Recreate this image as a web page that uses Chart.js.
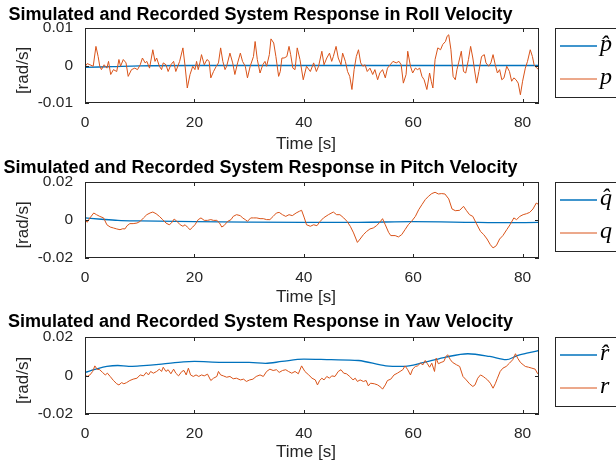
<!DOCTYPE html>
<html>
<head>
<meta charset="utf-8">
<script src="https://cdn.jsdelivr.net/npm/chart.js"></script>
<style>
  body { margin: 0; background: #fff; overflow: hidden; }
  .panel { position: absolute; left: 0; width: 616px; height: 156px; }
</style>
</head>
<body>
<div class="panel" style="top:0"><canvas id="rollChart" width="616" height="156"></canvas></div>
<div class="panel" style="top:154px"><canvas id="pitchChart" width="616" height="156"></canvas></div>
<div class="panel" style="top:309px"><canvas id="yawChart" width="616" height="156"></canvas></div>
<script>
const xTicks = [0, 20, 40, 60, 80];
const rollTicks = [-0.01, 0, 0.01];
const pitchTicks = [-0.02, 0, 0.02];
const yawTicks = [-0.02, 0, 0.02];

// roll velocity: recorded p and simulated p-hat
const rollTime = [
  0, 0.4, 0.9, 1.5, 2.0, 2.4, 2.7, 3.0, 3.5, 4.0,
  4.3, 4.7, 5.2, 5.8, 6.2, 6.5, 7.0, 7.5, 7.9, 8.5,
  9.1, 9.6, 10.1, 10.5, 11.0, 11.3, 11.8, 12.4, 12.8, 13.1,
  13.6, 14.0, 14.3, 14.8, 15.2, 15.7, 16.2, 16.6, 17.3, 17.9,
  18.3, 18.7, 19.2, 19.7, 20.1, 20.4, 20.7, 21.0, 21.3, 21.8,
  22.3, 22.7, 23.0, 23.5, 24.0, 24.4, 24.8, 25.2, 25.6, 25.9,
  26.5, 27.0, 27.4, 27.9, 28.4, 28.8, 29.3, 29.7, 30.2, 30.8,
  31.1, 31.5, 32.0, 32.5, 32.9, 33.2, 33.7, 34.0, 34.5, 34.9,
  35.4, 35.7, 36.0, 36.4, 36.9, 37.3, 37.6, 38.0, 38.4, 38.8,
  39.3, 39.9, 40.5, 41.2, 41.8, 42.3, 42.7, 43.3, 43.7, 44.2,
  44.7, 45.1, 45.4, 45.9, 46.3, 46.8, 47.1, 47.6, 48.0, 48.4,
  48.8, 49.2, 49.6, 50.0, 50.4, 50.8, 51.2, 51.6, 52.1, 52.6,
  53.0, 53.5, 53.9, 54.4, 54.9, 55.3, 55.8, 56.3, 56.9, 57.4,
  57.8, 58.2, 58.7, 59.0, 59.5, 59.9, 60.4, 60.8, 61.2, 61.6,
  62.0, 62.5, 63.0, 63.3, 63.6, 64.0, 64.5, 65.0, 65.4, 65.9,
  66.2, 66.5, 66.9, 67.3, 67.7, 68.0, 68.3, 68.8, 69.2, 69.6,
  70.1, 70.5, 70.9, 71.3, 71.6, 72.0, 72.5, 73.0, 73.3, 73.8,
  74.2, 74.6, 75.0, 75.4, 75.8, 76.2, 76.6, 77.1, 77.6, 78.0,
  78.4, 78.8, 79.2, 79.6, 80.0, 80.5, 80.9, 81.4, 81.8, 82.1,
  82.6, 83.0
];
const rollRecorded = [
  -0.0003, 0.0005, 0.0002, -0.0002, 0.0051, 0.0024, -0.0002, -0.0011, 0.0002, -0.0007,
  0.0011, -0.0024, -0.0011, -0.0016, 0.0016, -0.0002, 0.0016, 0.0007, -0.0029, -0.0011,
  -0.0007, -0.0011, 0.0002, 0.0020, 0.0007, 0.0011, -0.0007, 0.0042, 0.0011, 0.0020,
  -0.0002, -0.0011, 0.0007, 0.0002, -0.0016, 0.0002, 0.0011, -0.0016, 0.0011, 0.0047,
  -0.0002, -0.0060, -0.0024, -0.0002, -0.0011, 0.0011, -0.0011, 0.0007, 0.0029, 0.0002,
  0.0016, 0.0011, -0.0033, -0.0016, -0.0002, 0.0007, 0.0047, 0.0011, -0.0011, -0.0002,
  0.0033, 0.0007, -0.0024, 0.0007, 0.0033, 0.0011, -0.0002, -0.0033, -0.0002, 0.0024,
  0.0064, 0.0016, -0.0020, 0.0002, 0.0011, -0.0002, 0.0029, 0.0071, 0.0060, 0.0024,
  -0.0029, -0.0016, 0.0020, 0.0020, 0.0024, 0.0051, 0.0029, -0.0007, -0.0011, 0.0047,
  0.0016, -0.0038, -0.0002, -0.0016, 0.0007, -0.0016, -0.0002, 0.0038, 0.0002, 0.0020,
  0.0033, 0.0011, 0.0024, 0.0051, 0.0020, 0.0002, 0.0033, 0.0011, -0.0016, -0.0029,
  -0.0064, -0.0011, 0.0024, 0.0042, 0.0007, -0.0002, 0.0002, -0.0016, -0.0007, -0.0024,
  -0.0011, -0.0038, -0.0020, -0.0011, -0.0033, -0.0007, 0.0002, 0.0011, 0.0007, 0.0011,
  0.0002, -0.0047, -0.0024, 0.0038, -0.0002, -0.0020, -0.0007, -0.0011, -0.0007, -0.0029,
  -0.0038, -0.0064, -0.0020, -0.0042, -0.0060, 0.0016, 0.0047, 0.0042, 0.0056, 0.0064,
  0.0078, 0.0082, 0.0042, -0.0029, -0.0038, -0.0011, 0.0007, 0.0038, -0.0016, -0.0020,
  0.0016, 0.0051, 0.0020, -0.0020, -0.0047, -0.0016, 0.0024, 0.0029, 0.0007, -0.0002,
  0.0007, 0.0029, 0.0002, -0.0020, -0.0011, -0.0038, -0.0033, -0.0002, -0.0016, -0.0042,
  -0.0033, -0.0038, -0.0047, -0.0078, -0.0042, -0.0007, 0.0011, 0.0042, 0.0024, 0.0002,
  -0.0007, -0.0011
];
const rollSimTime = [0, 5, 10, 20, 40, 60, 83];
const rollSimulated = [-0.0005, -0.0003, -0.0001, 0, 0, 0, 0];

// pitch velocity: recorded q and simulated q-hat
const pitchTime = [
  0, 0.4, 0.9, 1.6, 2.1, 2.7, 3.4, 4.0, 4.6, 5.2,
  5.8, 6.4, 6.9, 7.3, 7.7, 8.2, 8.8, 9.5, 10.1, 10.7,
  11.3, 11.9, 12.4, 13.0, 13.6, 14.2, 14.8, 15.4, 15.8, 16.3,
  16.8, 17.4, 17.9, 18.3, 18.7, 19.2, 19.7, 20.1, 20.7, 21.2,
  21.8, 22.4, 23.0, 23.5, 24.1, 24.6, 25.0, 25.4, 26.1, 26.7,
  27.1, 27.7, 28.4, 28.8, 29.3, 29.7, 30.3, 30.8, 31.4, 32.0,
  32.6, 33.2, 33.8, 34.4, 35.0, 35.5, 36.1, 36.7, 37.3, 37.9,
  38.6, 39.2, 39.6, 40.1, 40.5, 41.2, 41.8, 42.4, 43.0, 43.6,
  44.5, 45.4, 46.0, 46.6, 47.3, 47.9, 48.5, 49.1, 49.8, 50.3,
  50.9, 51.5, 52.1, 52.7, 53.3, 53.9, 54.4, 54.9, 55.5, 55.9,
  56.7, 57.3, 57.9, 58.5, 59.1, 59.7, 60.4, 61.0, 61.6, 62.2,
  62.8, 63.4, 64.0, 64.6, 65.2, 65.8, 66.5, 67.1, 67.7, 68.5,
  69.2, 69.7, 70.3, 70.9, 71.5, 72.3, 72.9, 73.5, 74.1, 74.6,
  75.2, 75.8, 76.4, 77.1, 77.7, 78.4, 78.9, 79.5, 80.1, 80.7,
  81.3, 81.9, 82.5, 83.0
];
const pitchRecorded = [
  0.0002, -0.0012, 0.0011, 0.0037, 0.0028, 0.0019, 0.0011, -0.0025, -0.0037, -0.0042,
  -0.0047, -0.0051, -0.0046, -0.0047, -0.0030, -0.0019, -0.0019, -0.0016, -0.0007, 0.0011,
  0.0028, 0.0037, 0.0042, 0.0033, 0.0019, 0.0002, -0.0016, -0.0025, -0.0016, 0.0005,
  -0.0007, -0.0025, -0.0033, -0.0025, -0.0037, -0.0051, -0.0037, -0.0025, 0.0002, 0.0011,
  -0.0002, -0.0002, 0.0002, -0.0002, -0.0002, -0.0016, -0.0037, -0.0030, -0.0007, 0.0002,
  0.0019, 0.0028, 0.0023, 0.0011, 0.0002, -0.0007, 0.0011, 0.0011, 0.0011, 0.0007,
  0.0007, 0.0002, 0.0002, 0.0019, 0.0037, 0.0040, 0.0028, 0.0019, 0.0028, 0.0023,
  0.0037, 0.0046, 0.0051, 0.0011, -0.0025, -0.0033, -0.0025, -0.0030, -0.0007, 0.0011,
  0.0028, 0.0042, 0.0028, 0.0028, 0.0011, -0.0007, -0.0033, -0.0068, -0.0118, -0.0100,
  -0.0077, -0.0060, -0.0047, -0.0042, -0.0030, -0.0012, 0.0007, -0.0025, -0.0065, -0.0082,
  -0.0082, -0.0089, -0.0077, -0.0051, -0.0025, -0.0007, 0.0019, 0.0054, 0.0081, 0.0107,
  0.0125, 0.0139, 0.0146, 0.0137, 0.0139, 0.0137, 0.0111, 0.0058, 0.0049, 0.0051,
  0.0072, 0.0051, 0.0028, 0.0019, -0.0016, -0.0060, -0.0077, -0.0100, -0.0130, -0.0147,
  -0.0135, -0.0100, -0.0082, -0.0051, -0.0025, 0.0011, 0.0002, 0.0019, 0.0028, 0.0033,
  0.0040, 0.0058, 0.0089, 0.0081
];
const pitchSimTime = [0, 3, 6, 10, 20, 30, 40, 50, 60, 70, 75, 83];
const pitchSimulated = [0.0011, 0.0004, -0.0002, -0.0005, -0.0009, -0.0011, -0.0012, -0.0012, -0.0009, -0.0012, -0.0014, -0.0013];

// yaw velocity: recorded r and simulated r-hat
const yawTime = [
  0, 0.4, 0.9, 1.4, 1.8, 2.2, 2.7, 3.2, 3.7, 4.1,
  4.6, 5.2, 5.8, 6.2, 6.7, 7.1, 7.6, 8.2, 8.8, 9.5,
  10.1, 10.7, 11.2, 11.6, 12.0, 12.5, 13.1, 13.6, 14.0, 14.3,
  14.8, 15.2, 15.7, 16.2, 16.6, 17.1, 17.7, 18.1, 18.5, 18.9,
  19.3, 19.8, 20.3, 20.8, 21.3, 21.8, 22.4, 23.0, 23.5, 24.1,
  24.4, 24.8, 25.3, 25.9, 26.5, 27.1, 27.7, 28.4, 29.0, 29.5,
  30.1, 30.7, 31.3, 32.0, 32.6, 33.2, 33.8, 34.4, 35.0, 35.5,
  36.1, 36.7, 37.2, 37.8, 38.4, 39.0, 39.6, 40.2, 40.9, 41.5,
  42.1, 42.5, 42.9, 43.3, 43.7, 44.2, 44.7, 45.1, 45.7, 46.3,
  46.8, 47.3, 47.8, 48.4, 49.0, 49.4, 49.8, 50.3, 50.9, 51.4,
  51.8, 52.2, 52.9, 53.5, 54.1, 54.4, 54.9, 55.3, 55.9, 56.5,
  57.1, 57.6, 58.1, 58.5, 59.0, 59.5, 59.9, 60.4, 60.8, 61.3,
  61.8, 62.2, 62.6, 63.0, 63.4, 63.9, 64.2, 64.6, 65.1, 65.6,
  66.0, 66.3, 66.8, 67.2, 67.9, 68.5, 69.1, 69.7, 70.3, 70.9,
  71.3, 71.8, 72.3, 72.8, 73.2, 73.6, 74.1, 74.6, 75.0, 75.4,
  75.9, 76.4, 77.0, 77.6, 78.2, 78.7, 79.1, 79.6, 80.1, 80.5,
  81.1, 81.7, 82.3, 82.7, 83.0
];
const yawRecorded = [
  0.0003, -0.0005, 0.0003, 0.0021, 0.0050, 0.0033, 0.0030, 0.0016, 0.0003, 0.0012,
  -0.0005, -0.0026, -0.0043, -0.0049, -0.0037, -0.0043, -0.0037, -0.0026, -0.0019, -0.0014,
  0.0003, -0.0002, 0.0016, 0.0003, 0.0021, 0.0012, 0.0021, 0.0033, 0.0021, 0.0043,
  0.0021, 0.0030, 0.0009, 0.0033, 0.0012, -0.0002, 0.0021, 0.0026, 0.0003, 0.0038,
  0.0003, -0.0005, 0.0003, -0.0005, 0.0003, -0.0002, 0.0007, -0.0026, -0.0014, -0.0005,
  0.0021, 0.0003, -0.0002, -0.0009, -0.0005, -0.0017, -0.0014, -0.0023, -0.0019, -0.0031,
  -0.0023, -0.0019, -0.0005, 0.0003, -0.0005, 0.0021, 0.0033, 0.0026, 0.0030, 0.0016,
  0.0026, 0.0030, 0.0021, 0.0012, 0.0021, 0.0009, 0.0050, 0.0021, 0.0003, -0.0014,
  -0.0023, -0.0049, -0.0026, -0.0014, -0.0023, -0.0005, -0.0014, -0.0002, -0.0005, 0.0021,
  0.0030, 0.0012, 0.0009, -0.0005, -0.0023, -0.0014, -0.0031, -0.0023, -0.0031, -0.0026,
  -0.0054, -0.0040, -0.0043, -0.0049, -0.0061, -0.0071, -0.0049, -0.0026, -0.0019, 0.0003,
  0.0012, 0.0021, 0.0030, 0.0050, 0.0030, 0.0003, 0.0033, 0.0047, 0.0050, 0.0064,
  0.0056, 0.0078, 0.0061, 0.0043, 0.0064, 0.0021, 0.0090, 0.0061, 0.0068, 0.0073,
  0.0099, 0.0108, 0.0082, 0.0068, 0.0056, 0.0047, -0.0005, -0.0023, -0.0043, -0.0057,
  -0.0049, -0.0014, 0.0003, -0.0005, -0.0014, -0.0023, -0.0040, -0.0066, -0.0043, -0.0014,
  0.0021, 0.0038, 0.0047, 0.0064, 0.0082, 0.0113, 0.0090, 0.0068, 0.0056, 0.0047,
  0.0043, 0.0038, 0.0033, 0.0012, 0.0003
];
const yawSimTime = [0, 2, 4, 6, 8, 10, 14, 18, 20, 25, 30, 33, 36, 40, 45, 50, 55, 58, 62, 66, 70, 74, 77, 79, 81, 83];
const yawSimulated = [0.0016, 0.0033, 0.0047, 0.0052, 0.0047, 0.0050, 0.0059, 0.0071, 0.0073, 0.0068, 0.0068, 0.0063, 0.0073, 0.0085, 0.0082, 0.0078, 0.0050, 0.0047, 0.0068, 0.0096, 0.0113, 0.0099, 0.0082, 0.0103, 0.0117, 0.0130];

const BLUE = '#0072BD';
const ORANGE = '#D95319';
const AXIS = '#262626';
const SANS = '"Liberation Sans", Arial, Helvetica, sans-serif';

function series(time, vals) {
  return time.map((t, i) => ({ x: t, y: vals[i] }));
}

// box around the axes, inward tick marks, title and axis labels
const axesFrame = {
  id: 'axesFrame',
  afterDatasetsDraw(chart, args, opts) {
    const { ctx, chartArea: a, scales: { x, y } } = chart;
    ctx.save();
    ctx.strokeStyle = AXIS;
    ctx.lineWidth = 1;
    ctx.beginPath();
    x.ticks.forEach(t => {
      const px = Math.round(x.getPixelForValue(t.value)) + 0.5;
      ctx.moveTo(px, a.bottom); ctx.lineTo(px, a.bottom - 4);
      ctx.moveTo(px, a.top); ctx.lineTo(px, a.top + 4);
    });
    y.ticks.forEach(t => {
      const py = Math.round(y.getPixelForValue(t.value)) + 0.5;
      ctx.moveTo(a.left, py); ctx.lineTo(a.left + 4, py);
      ctx.moveTo(a.right, py); ctx.lineTo(a.right - 4, py);
    });
    ctx.stroke();
    ctx.strokeRect(a.left + 0.5, a.top + 0.5, a.right - a.left - 1, a.bottom - a.top - 1);

    ctx.fillStyle = '#000';
    ctx.font = 'bold 18px ' + SANS;
    ctx.textAlign = 'center';
    ctx.textBaseline = 'alphabetic';
    ctx.fillText(opts.title, 260.5, opts.titleY);

    ctx.fillStyle = AXIS;
    ctx.font = '17px ' + SANS;
    ctx.textBaseline = 'middle';
    ctx.fillText('Time [s]', 306, opts.xLabelY);

    ctx.translate(23, (a.top + a.bottom) / 2 + 5);
    ctx.rotate(-Math.PI / 2);
    ctx.fillText('[rad/s]', 0, 0);
    ctx.restore();
  }
};

// boxed legend to the right of the axes
const legendBox = {
  id: 'legendBox',
  afterDraw(chart, args, opts) {
    const { ctx } = chart;
    const top = opts.top;
    ctx.save();
    ctx.fillStyle = '#fff';
    ctx.fillRect(555, top, 80, 69);
    ctx.strokeStyle = AXIS;
    ctx.lineWidth = 1;
    ctx.strokeRect(555.5, top + 0.5, 80, 69);
    ctx.font = 'italic 24px "Liberation Serif", "DejaVu Serif", serif';
    ctx.textAlign = 'left';
    ctx.textBaseline = 'alphabetic';
    opts.labels.forEach((lbl, i) => {
      const ds = chart.data.datasets[i];
      const ly = top + 18 + i * 33;
      ctx.strokeStyle = ds.borderColor;
      ctx.lineWidth = ds.borderWidth;
      ctx.beginPath();
      ctx.moveTo(560, ly);
      ctx.lineTo(597, ly);
      ctx.stroke();
      ctx.fillStyle = '#000';
      ctx.fillText(lbl, 600, ly + 5);
    });
    ctx.restore();
  }
};

function makePanel(id, p) {
  const plotTop = 28;
  const xScaleHeight = 40;
  new Chart(document.getElementById(id), {
    type: 'line',
    data: {
      datasets: [
        {
          data: series(p.simTime, p.simVals),
          borderColor: BLUE, borderWidth: 1.3,
          pointRadius: 0, cubicInterpolationMode: 'monotone', order: 1
        },
        {
          data: series(p.recTime, p.recVals),
          borderColor: ORANGE, borderWidth: 1,
          pointRadius: 0, tension: 0, order: 0
        }
      ]
    },
    options: {
      responsive: false,
      animation: false,
      events: [],
      layout: { padding: { top: plotTop, left: 0, right: 77, bottom: 156 - p.plotBottom - xScaleHeight } },
      scales: {
        x: {
          type: 'linear', min: 0, max: 83,
          afterBuildTicks: s => { s.ticks = xTicks.map(v => ({ value: v })); },
          afterFit: s => { s.height = xScaleHeight; },
          grid: { display: false, drawTicks: false },
          border: { display: false },
          ticks: { color: AXIS, font: { family: SANS, size: 15.5 }, padding: 10, maxRotation: 0,
                   callback: v => String(v) }
        },
        y: {
          min: p.yTicks[0], max: p.yTicks[p.yTicks.length - 1],
          afterBuildTicks: s => { s.ticks = p.yTicks.map(v => ({ value: v })); },
          afterFit: s => { s.width = 85; },
          grid: { display: false, drawTicks: false },
          border: { display: false },
          ticks: { color: AXIS, font: { family: SANS, size: 15.5 }, padding: 12,
                   callback: v => String(v) }
        }
      },
      plugins: {
        legend: { display: false },
        tooltip: { enabled: false },
        axesFrame: { title: p.title, titleY: p.titleY, xLabelY: p.xLabelY },
        legendBox: { top: 28, labels: p.labels }
      }
    },
    plugins: [axesFrame, legendBox]
  });
}

makePanel('rollChart', {
  title: 'Simulated and Recorded System Response in Roll Velocity',
  titleY: 20, xLabelY: 144, plotBottom: 103,
  yTicks: rollTicks, labels: ['p\u0302', 'p'],
  recTime: rollTime, recVals: rollRecorded, simTime: rollSimTime, simVals: rollSimulated
});
makePanel('pitchChart', {
  title: 'Simulated and Recorded System Response in Pitch Velocity',
  titleY: 19, xLabelY: 143, plotBottom: 104,
  yTicks: pitchTicks, labels: ['q\u0302', 'q'],
  recTime: pitchTime, recVals: pitchRecorded, simTime: pitchSimTime, simVals: pitchSimulated
});
makePanel('yawChart', {
  title: 'Simulated and Recorded System Response in Yaw Velocity',
  titleY: 18, xLabelY: 143, plotBottom: 105,
  yTicks: yawTicks, labels: ['r\u0302', 'r'],
  recTime: yawTime, recVals: yawRecorded, simTime: yawSimTime, simVals: yawSimulated
});
</script>
</body>
</html>
